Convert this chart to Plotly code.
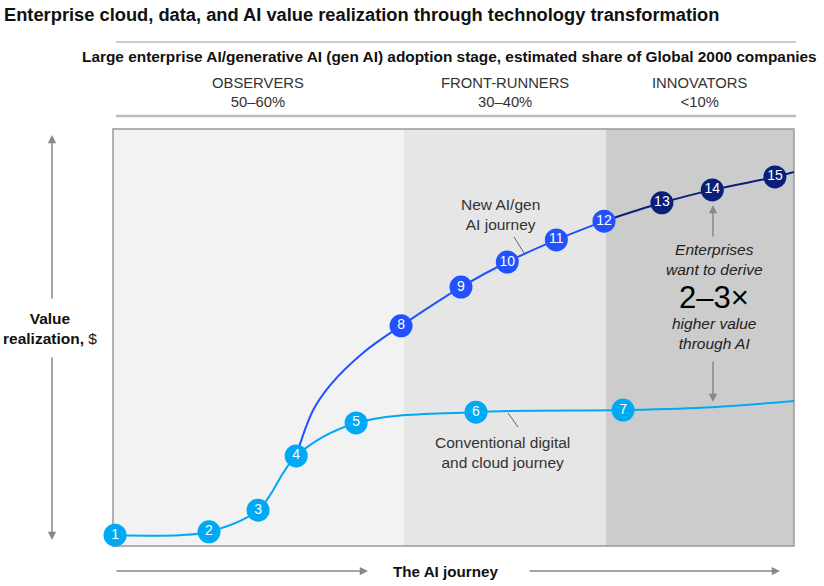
import plotly.graph_objects as go

# ---------------- data ----------------
stage_names = ["OBSERVERS", "FRONT-RUNNERS", "INNOVATORS"]
stage_shares = ["50–60%", "30–40%", "<10%"]
stage_edges = [0, 42.7, 72.4, 100]          # journey progress (%) where stages change
stage_fills = ["#f2f2f2", "#e6e6e6", "#cccccc"]

# conventional digital and cloud journey (path)
conv_path_x = [0.3, 9.8, 14.1, 21.3, 26.9, 35.7, 53.3, 74.9, 88.0, 100]
conv_path_y = [2.6, 2.6, 3.4, 8.6, 21.6, 29.5, 32.1, 32.6, 33.3, 34.8]

# new AI / gen AI journey (path)
ai_path_x = [26.9, 29.4, 31.9, 36.7, 42.3, 51.1, 57.9, 65.1, 72.1]
ai_path_y = [21.6, 32.6, 38.6, 46.3, 52.8, 62.1, 68.1, 73.4, 77.9]
ai_late_x = [72.1, 80.6, 88.0, 97.2, 100]
ai_late_y = [77.9, 82.3, 85.4, 88.5, 89.7]

# numbered milestones
conv_ids = ["1", "2", "3", "4", "5", "6", "7"]
conv_x = [0.3, 14.1, 21.3, 26.9, 35.7, 53.3, 74.9]
conv_y = [2.6, 3.4, 8.6, 21.6, 29.5, 32.1, 32.6]
ai_ids = ["8", "9", "10", "11", "12"]
ai_x = [42.3, 51.1, 57.9, 65.1, 72.1]
ai_y = [52.8, 62.1, 68.1, 73.4, 77.9]
late_ids = ["13", "14", "15"]
late_x = [80.6, 88.0, 97.2]
late_y = [82.3, 85.4, 88.5]

CYAN = "#00a9f4"
BLUE = "#2251ff"
NAVY = "#0b1f78"
FONT = "Liberation Sans, Arial, sans-serif"

W, H = 824, 586
L, R, T, B = 113, 794, 129, 546


def px(x):
    return (x - L) / (R - L)


def py(y):
    return (B - y) / (B - T)


fig = go.Figure()

fig.add_trace(go.Scatter(x=conv_path_x, y=conv_path_y, mode="lines",
                         line=dict(color=CYAN, width=2, shape="spline", smoothing=1.0),
                         hoverinfo="skip", cliponaxis=False))
fig.add_trace(go.Scatter(x=ai_path_x, y=ai_path_y, mode="lines",
                         line=dict(color=BLUE, width=2, shape="spline", smoothing=1.0),
                         hoverinfo="skip"))
fig.add_trace(go.Scatter(x=ai_late_x, y=ai_late_y, mode="lines",
                         line=dict(color=NAVY, width=2, shape="spline", smoothing=1.0),
                         hoverinfo="skip"))

for ids, xs, ys, col in [(conv_ids, conv_x, conv_y, CYAN),
                         (ai_ids, ai_x, ai_y, BLUE),
                         (late_ids, late_x, late_y, NAVY)]:
    fig.add_trace(go.Scatter(x=xs, y=ys, mode="markers+text", text=ids,
                             textposition="middle center",
                             textfont=dict(color="white", size=14, family=FONT),
                             marker=dict(size=23, color=col, line=dict(width=0)),
                             hoverinfo="skip", cliponaxis=False))

shapes = []
for i in range(3):
    shapes.append(dict(type="rect", xref="x", yref="paper",
                       x0=stage_edges[i], x1=stage_edges[i + 1], y0=0, y1=1,
                       fillcolor=stage_fills[i], line=dict(width=0), layer="below"))
shapes.append(dict(type="rect", xref="paper", yref="paper", x0=0, x1=1, y0=0, y1=1,
                   line=dict(color="#999999", width=1.5), layer="below"))
# header rules
shapes.append(dict(type="line", xref="paper", yref="paper", x0=px(116), x1=px(796),
                   y0=py(42), y1=py(42), line=dict(color="#999999", width=1)))
shapes.append(dict(type="line", xref="paper", yref="paper", x0=px(116), x1=px(796),
                   y0=py(116), y1=py(116), line=dict(color="#bbbbbb", width=2.5)))
# leader lines
shapes.append(dict(type="line", xref="paper", yref="paper", x0=px(514), x1=px(524),
                   y0=py(237), y1=py(253), line=dict(color="#666666", width=1)))
shapes.append(dict(type="line", xref="paper", yref="paper", x0=px(508), x1=px(518),
                   y0=py(413), y1=py(427), line=dict(color="#666666", width=1)))

ann = []


def text(x, y, s, size=14, color="#222222", xanchor="center", **kw):
    ann.append(dict(xref="paper", yref="paper", x=px(x), y=py(y), text=s,
                    showarrow=False, xanchor=xanchor, yanchor="middle",
                    font=dict(size=size, color=color, family=FONT), **kw))


def arrow(tx, ty, sx, sy):
    ann.append(dict(xref="paper", yref="paper", x=px(tx), y=py(ty), text="",
                    showarrow=True, ax=sx - tx, ay=sy - ty, arrowhead=2,
                    arrowsize=1.1, arrowwidth=1.5, arrowcolor="#888888"))


text(2, 15, "<b>Enterprise cloud, data, and AI value realization through technology transformation</b>",
     size=18.3, color="#111111", xanchor="left")
text(819, 57, "<b>Large enterprise AI/generative AI (gen AI) adoption stage, estimated share of Global 2000 companies</b>",
     size=15.4, color="#111111", xanchor="right")

for i in range(3):
    cx = L + (stage_edges[i] + stage_edges[i + 1]) / 2 / 100 * (R - L)
    text(cx, 92, stage_names[i] + "<br>" + stage_shares[i], size=14.8, color="#333333")

text(500, 214, "New AI/gen<br>AI journey", size=15.5, color="#333333")
text(502, 452, "Conventional digital<br>and cloud journey", size=15.5, color="#333333")
text(714, 259, "<i>Enterprises<br>want to derive</i>", size=15.5, color="#222222")
text(714, 297, "2–3×", size=31, color="#000000")
text(714, 333, "<i>higher value<br>through AI</i>", size=15.5, color="#222222")

text(50, 328, "<b>Value<br>realization,</b> $", size=15.5, color="#111111")
text(445, 571, "<b>The AI journey</b>", size=15.2, color="#111111")

arrow(713, 205, 713, 238)
arrow(713, 402, 713, 360)
arrow(52, 135, 52, 300)
arrow(52, 540, 52, 356)
arrow(368, 571, 115, 571)
arrow(780, 571, 528, 571)

fig.update_layout(
    width=W, height=H,
    margin=dict(l=L, r=W - R, t=T, b=H - B),
    paper_bgcolor="white", plot_bgcolor="white",
    showlegend=False,
    xaxis=dict(range=[0, 100], visible=False, fixedrange=True),
    yaxis=dict(range=[0, 100], visible=False, fixedrange=True),
    shapes=shapes, annotations=ann,
    font=dict(family=FONT),
)

fig.write_html("out.html", config={"displayModeBar": False},
               post_script="document.body.style.margin='0';")
